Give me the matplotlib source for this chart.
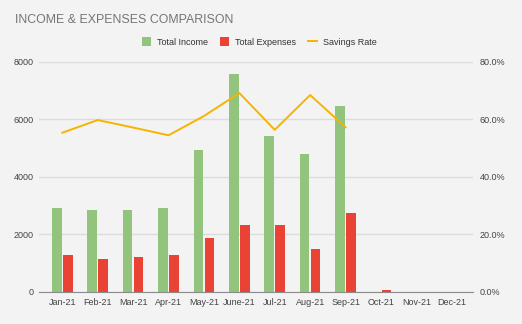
import numpy as np
import matplotlib
matplotlib.use("Agg")
import matplotlib.pyplot as plt
from matplotlib.ticker import PercentFormatter

months = ['Jan-21', 'Feb-21', 'Mar-21', 'Apr-21', 'May-21', 'June-21',
          'Jul-21', 'Aug-21', 'Sep-21', 'Oct-21', 'Nov-21', 'Dec-21']
income = [2920, 2860, 2860, 2920, 4940, 7580, 5430, 4800, 6470, 0, 0, 0]
expenses = [1300, 1140, 1210, 1300, 1890, 2340, 2340, 1500, 2760, 60, 0, 0]
savings_rate = [55.4, 59.8, 57.2, 54.5, 61.2, 69.2, 56.4, 68.5, 57.3]

plt.rcParams['font.family'] = ['Liberation Sans', 'DejaVu Sans']

bg = '#f3f3f3'
fig = plt.figure(figsize=(5.22, 3.24), dpi=100, facecolor=bg)
ax = fig.add_axes([0.0753, 0.0988, 0.8302, 0.7099], facecolor=bg)

x = np.arange(len(months))
w = 0.27
ax.bar(x - 0.155, income, w, color='#93c47d', label='Total Income', zorder=3)
ax.bar(x + 0.155, expenses, w, color='#ea4335', label='Total Expenses', zorder=3)

ax.set_ylim(0, 8000)
ax.set_yticks([0, 2000, 4000, 6000, 8000])
ax.set_xlim(-0.65, 11.59)
ax.set_xticks(x)
ax.set_xticklabels(months)
ax.grid(axis='y', color='#dcdcdc', linewidth=1, zorder=0)
for s in ['top', 'right', 'left']:
    ax.spines[s].set_visible(False)
ax.spines['bottom'].set_color('#8a8a8a')
ax.spines['bottom'].set_zorder(4)
ax.tick_params(length=0, labelsize=6.5, colors='#444444', pad=4)

ax2 = ax.twinx()
ax2.plot(x[:len(savings_rate)], savings_rate, color='#f6b400', linewidth=1.4,
         label='Savings Rate', zorder=4)
ax2.set_ylim(0, 80)
ax2.set_yticks([0, 20, 40, 60, 80])
ax2.yaxis.set_major_formatter(PercentFormatter(decimals=1))
for s in ['top', 'right', 'left', 'bottom']:
    ax2.spines[s].set_visible(False)
ax2.tick_params(length=0, labelsize=6.5, colors='#444444', pad=5)

fig.text(0.028, 0.938, 'INCOME & EXPENSES COMPARISON', fontsize=8.9,
         color='#757575', ha='left', va='center')

h1, l1 = ax.get_legend_handles_labels()
h2, l2 = ax2.get_legend_handles_labels()
fig.legend(h1 + h2, l1 + l2, loc='center', bbox_to_anchor=(0.497, 0.87), ncol=3,
           frameon=False, fontsize=6.5, handlelength=1.0, handleheight=1.1,
           columnspacing=1.3, handletextpad=0.7, labelcolor='#333333')

fig.savefig('out.png', dpi=100, facecolor=bg)
